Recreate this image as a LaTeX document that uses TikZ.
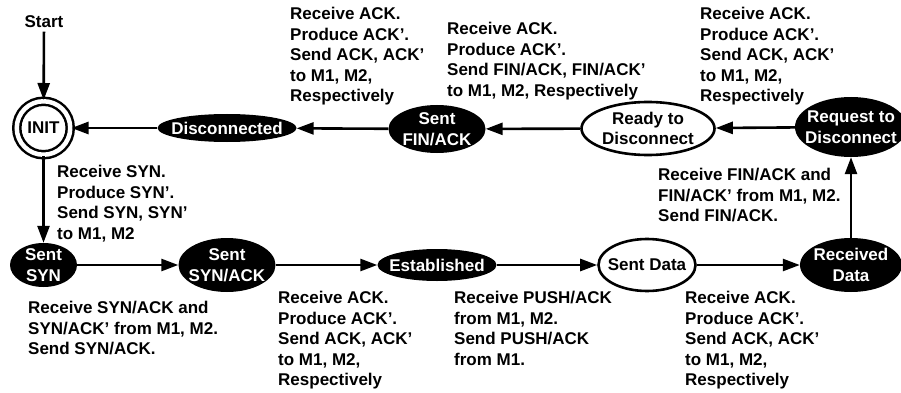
\documentclass[tikz,border=0pt]{standalone}
\usepackage{fontspec}
\setmainfont{Liberation Sans}
\usepackage{tikz}
\usetikzlibrary{shapes.geometric, arrows.meta, positioning}

\begin{document}
\begin{tikzpicture}[
    x=1pt, y=-1pt,
    every node/.style={font=\fontsize{17}{20.5}\selectfont\bfseries},
    darkstate/.style={ellipse, fill=black, text=white, inner xsep=-15pt, inner ysep=-4pt, align=center},
    lightstate/.style={ellipse, draw=black, line width=2.6pt, fill=white, inner xsep=-15pt, inner ysep=-4pt, align=center},
    initstate/.style={circle, draw=black, line width=2.5pt, double, double distance=4.5pt, minimum size=53.5pt, inner sep=0pt},
    trans/.style={-{Triangle[length=17pt,width=12pt]}, line width=2.6pt},
    note/.style={anchor=north west, align=left, inner sep=0pt}
  ]
    \useasboundingbox (0,0) rectangle (901,393);

    % states
    \node (start) at (44,22) {Start};
    \node[initstate] (INIT) at (43.5,128) {INIT};
    \node[darkstate, minimum width=67pt, minimum height=44pt] (SYN) at (43.5,265) {Sent\\SYN};
    \node[darkstate, minimum width=97pt, minimum height=54pt] (SYNACK) at (227,265) {Sent\\SYN/ACK};
    \node[darkstate, minimum width=119pt, minimum height=32pt] (EST) at (437,265) {Established};
    \node[lightstate, minimum width=97pt, minimum height=52pt] (SDATA) at (647,265) {Sent Data};
    \node[darkstate, minimum width=102pt, minimum height=54pt] (RDATA) at (851,265) {Received\\Data};
    \node[darkstate, minimum width=112pt, minimum height=60pt] (REQ) at (851,127) {Request to\\Disconnect};
    \node[lightstate, minimum width=133pt, minimum height=53pt] (READY) at (648,128.5) {Ready to\\Disconnect};
    \node[darkstate, minimum width=97pt, minimum height=48pt] (FIN) at (437,129) {Sent\\FIN/ACK};
    \node[darkstate, minimum width=139pt, minimum height=28pt] (DISC) at (227,128) {Disconnected};

    % transitions
    \draw[trans] (start) -- (INIT);
    \draw[trans] (INIT) -- (SYN);
    \draw[trans] (SYN) -- (SYNACK);
    \draw[trans] (SYNACK) -- (EST);
    \draw[trans] (EST) -- (SDATA);
    \draw[trans] (SDATA) -- (RDATA);
    \draw[trans] (RDATA) -- (REQ);
    \draw[trans] (REQ) -- (READY);
    \draw[trans] (READY) -- (FIN);
    \draw[trans] (FIN) -- (DISC);
    \draw[trans] (DISC) -- (INIT);

    % transition notes
    \node[note] (nINIT) at (57,165) {Receive SYN.\\Produce SYN'.\\Send SYN, SYN'\\to M1, M2};
    \node[note] (nSYN) at (28,301) {Receive SYN/ACK and\\SYN/ACK' from M1, M2.\\Send SYN/ACK.};
    \node[note] (nSYNACK) at (278,291) {Receive ACK.\\Produce ACK'.\\Send ACK, ACK'\\to M1, M2,\\Respectively};
    \node[note] (nEST) at (454,291) {Receive PUSH/ACK\\from M1, M2.\\Send PUSH/ACK\\from M1.};
    \node[note] (nSDATA) at (685,291) {Receive ACK.\\Produce ACK'.\\Send ACK, ACK'\\to M1, M2,\\Respectively};
    \node[note] (nRDATA) at (658,168) {Receive FIN/ACK and\\FIN/ACK' from M1, M2.\\Send FIN/ACK.};
    \node[note] (nREQ) at (700,7) {Receive ACK.\\Produce ACK'.\\Send ACK, ACK'\\to M1, M2,\\Respectively};
    \node[note] (nREADY) at (447,22) {Receive ACK.\\Produce ACK'.\\Send FIN/ACK, FIN/ACK'\\to M1, M2, Respectively};
    \node[note] (nFIN) at (290,7) {Receive ACK.\\Produce ACK'.\\Send ACK, ACK'\\to M1, M2,\\Respectively};
\end{tikzpicture}
\end{document}
